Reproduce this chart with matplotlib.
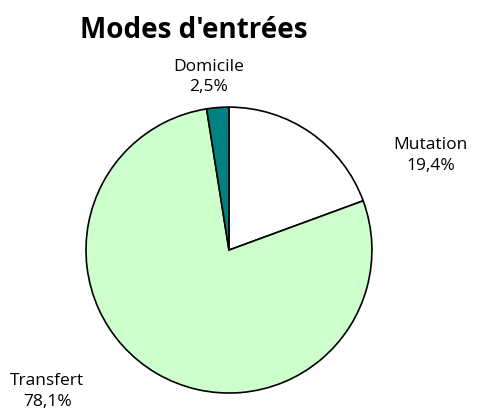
import matplotlib.pyplot as plt

plt.rcParams['font.family'] = ['Open Sans', 'DejaVu Sans']

categories = ["Mutation", "Transfert", "Domicile"]
values = [19.4, 78.1, 2.5]
value_labels = ["19,4%", "78,1%", "2,5%"]
colors = ["#FFFFFF", "#CCFFCC", "#008080"]

# label positions in pie units (radius = 1)
label_pos = [(1.41, 0.66), (-1.27, -0.99), (-0.14, 1.21)]

fig = plt.figure(figsize=(4.8, 4.12), dpi=100)
ax = fig.add_axes([0.179, 0.046, 0.596, 0.694])

wedges, texts = ax.pie(values, colors=colors, startangle=90, counterclock=False,
                       labels=[f"{c}\n{v}" for c, v in zip(categories, value_labels)],
                       wedgeprops=dict(edgecolor="black", linewidth=1.2),
                       textprops=dict(fontsize=12.5, ha="center", va="center", linespacing=1.4))
for t, (x, y) in zip(texts, label_pos):
    t.set_position((x, y))
    t.set_ha("center")
    t.set_va("center")
ax.set_xlim(-1, 1)
ax.set_ylim(-1, 1)
ax.set_aspect("equal")
for w in wedges:
    w.set_clip_on(False)

fig.text(0.403, 0.927, "Modes d'entrées", ha="center", va="center",
         fontsize=20, fontweight="bold")

plt.savefig("out.png", dpi=100)
